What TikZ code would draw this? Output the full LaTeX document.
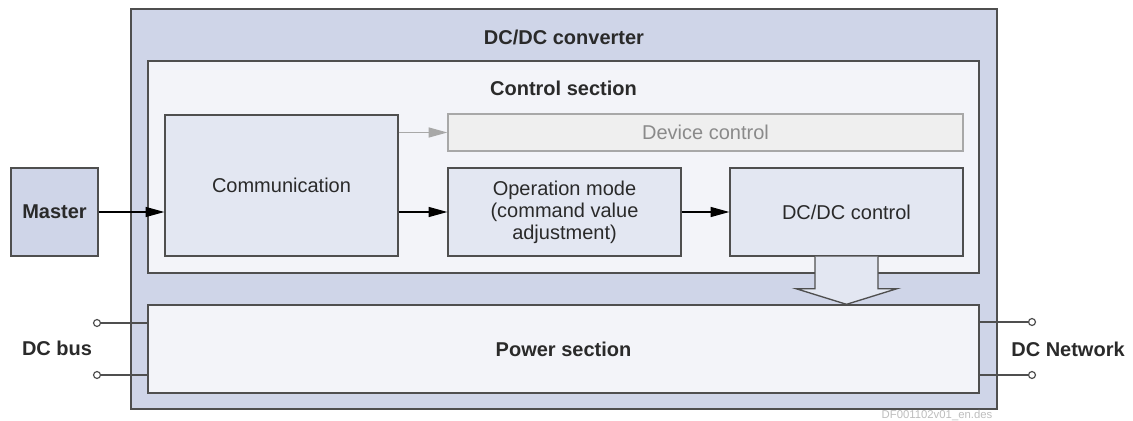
\documentclass[tikz,border=0pt]{standalone}
\usepackage{fontspec}
\setmainfont{Liberation Sans}
\usepackage{xcolor}
\usetikzlibrary{arrows.meta,calc}

\definecolor{frameBlue}{HTML}{CFD5E8}
\definecolor{sectionWhite}{HTML}{F3F4F9}
\definecolor{boxBlue}{HTML}{E3E7F2}
\definecolor{lineGray}{HTML}{4F4F4F}
\definecolor{textGray}{HTML}{2A2A2A}
\definecolor{devFill}{HTML}{EFEFEF}
\definecolor{devLine}{HTML}{A8A8A8}
\definecolor{devText}{HTML}{8A8A8A}
\definecolor{markGray}{HTML}{BDBDBD}

\begin{document}
\begin{tikzpicture}[x=0.75pt,y=0.75pt,yscale=-1,xscale=1,
        box/.style={draw=lineGray,line width=1pt,fill=boxBlue,inner sep=0pt,align=center,text=textGray,
            font=\fontsize{15}{16.5}\selectfont},
        title/.style={text=textGray,font=\fontsize{15}{16.5}\selectfont\bfseries},
        flow/.style={draw=black,line width=0.9pt,-{Triangle[length=14pt,width=7.5pt]}},
        wire/.style={draw=lineGray,line width=0.9pt}]
        \useasboundingbox (0,0) rectangle (1133,421);
        %Shape: Rectangle [DC/DC converter]
        \node[box,fill=frameBlue,minimum width=649.5pt,minimum height=300pt] (conv) at (564,209) {};
        \node[title] (convtitle) at (564,37) {DC/DC converter};
        %Shape: Rectangle [Control section]
        \node[box,fill=sectionWhite,minimum width=623.25pt,minimum height=159pt] (ctrl) at (563.5,167) {};
        \node[title] (ctrltitle) at (563.5,88) {Control section};
        %Shape: Rectangle [Power section]
        \node[box,fill=sectionWhite,minimum width=623.25pt,minimum height=66pt,font=\fontsize{15}{16.5}\selectfont\bfseries] (power) at (563.5,349) {Power section};
        % Blocks of the control section
        \node[box,minimum width=174.75pt,minimum height=105.75pt] (comm) at (281.5,185.5) {Communication};
        \node[box,fill=devFill,draw=devLine,text=devText,minimum width=386.25pt,minimum height=27.75pt] (dev) at (705.5,132.5) {Device control};
        \node[box,minimum width=174.75pt,minimum height=66pt] (opm) at (564.5,212) {Operation mode\\(command value\\adjustment)};
        \node[box,minimum width=174.75pt,minimum height=66pt] (dcc) at (846.5,212) {DC/DC control};
        \node[box,fill=frameBlue,minimum width=65.25pt,minimum height=66pt,font=\fontsize{15}{16.5}\selectfont\bfseries] (master) at (54.5,212) {Master};
        %Straight Lines [signal flow]
        \draw[flow] (master) -- (comm.west |- master);
        \draw[flow,draw=devLine,-{Triangle[length=14pt,width=7.5pt,fill=devLine]}] (comm.east |- dev) -- (dev);
        \draw[flow] (comm.east |- opm) -- (opm);
        \draw[flow] (opm) -- (dcc);
        %Shape: Hollow arrow [DC/DC control to power section]
        \draw[draw=lineGray,line width=1pt,fill=boxBlue] ($(dcc.south)+(-31.5,0)$) |- ($(dcc.south)+(-50.5,32)$)
            -- (dcc.south |- power.north) -- ($(dcc.south)+(50.5,32)$) -| ($(dcc.south)+(31.5,0)$);
        %Terminals
        \coordinate (busA) at (97,323);
        \coordinate (busB) at (97,375);
        \coordinate (netA) at (1032,322);
        \coordinate (netB) at (1032,375);
        \draw[wire] (busA) -- (busA -| power.west);
        \draw[wire] (busB) -- (busB -| power.west);
        \draw[wire] (netA) -- (netA -| power.east);
        \draw[wire] (netB) -- (netB -| power.east);
        \draw[wire,fill=white] (busA) circle[radius=2.6pt] (busB) circle[radius=2.6pt];
        \draw[wire,fill=white] (netA) circle[radius=2.6pt] (netB) circle[radius=2.6pt];
        % Text Node
        \node[title] (buslabel) at (57,348) {DC bus};
        \node[title] (netlabel) at (1068,349) {DC Network};
        \node[font=\fontsize{8.5}{9}\selectfont,text=markGray] (docid) at (937,416) {DF001102v01\_en.des};
\end{tikzpicture}
\end{document}
